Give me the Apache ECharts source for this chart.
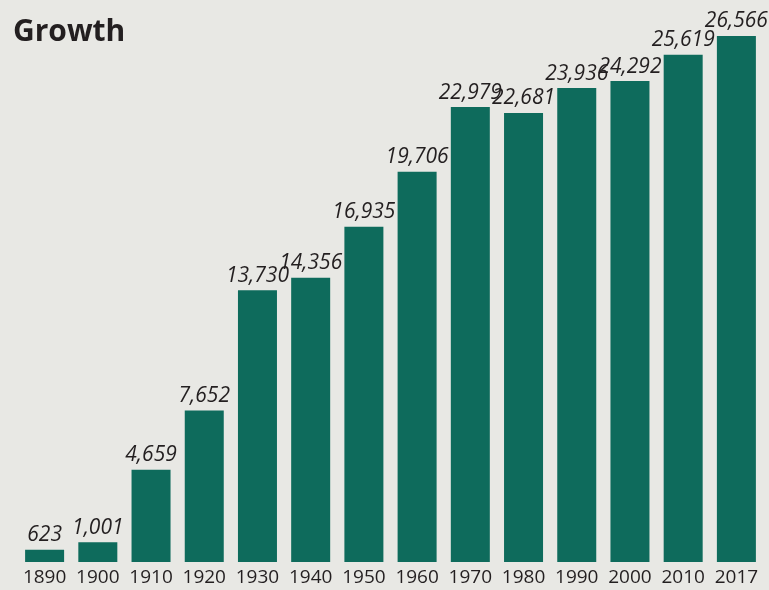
<!DOCTYPE html>
<html>
<head>
<meta charset="utf-8">
<script src="https://cdn.jsdelivr.net/npm/echarts@6/dist/echarts.min.js"></script>
<style>
  html, body { margin: 0; padding: 0; background: #e8e8e4; }
  #chart { width: 769px; height: 590px; }
</style>
</head>
<body>
<div id="chart"></div>
<script>
var years = ['1890','1900','1910','1920','1930','1940','1950','1960','1970','1980','1990','2000','2010','2017'];
var population = [623, 1001, 4659, 7652, 13730, 14356, 16935, 19706, 22979, 22681, 23936, 24292, 25619, 26566];

var growthChart = echarts.init(document.getElementById('chart'));
growthChart.setOption({
    backgroundColor: '#e8e8e4',
    animation: false,
    title: {
        text: 'Growth',
        left: 8,
        top: 12,
        textStyle: {
            fontFamily: 'Open Sans',
            fontWeight: 'bold',
            fontSize: 30,
            color: '#231f20'
        }
    },
    grid: {
        left: 18,
        right: 6,
        top: 36,
        bottom: 28
    },
    xAxis: {
        type: 'category',
        data: years,
        axisLine: {show: false},
        axisTick: {show: false},
        axisLabel: {
            margin: 6,
            fontFamily: 'Open Sans',
            fontSize: 19,
            color: '#231f20',
            interval: 0
        }
    },
    yAxis: {
        type: 'value',
        min: 0,
        max: 26566,
        show: false,
        splitLine: {show: false}
    },
    series: [{
        type: 'bar',
        data: population,
        barWidth: 39,
        itemStyle: {color: '#0e6b5c'},
        label: {
            show: true,
            position: 'top',
            distance: 4,
            fontFamily: 'Open Sans',
            fontStyle: 'italic',
            fontSize: 21,
            color: '#231f20',
            formatter: function (p) { return p.value.toLocaleString('en-US'); }
        }
    }]
});
</script>
</body>
</html>
